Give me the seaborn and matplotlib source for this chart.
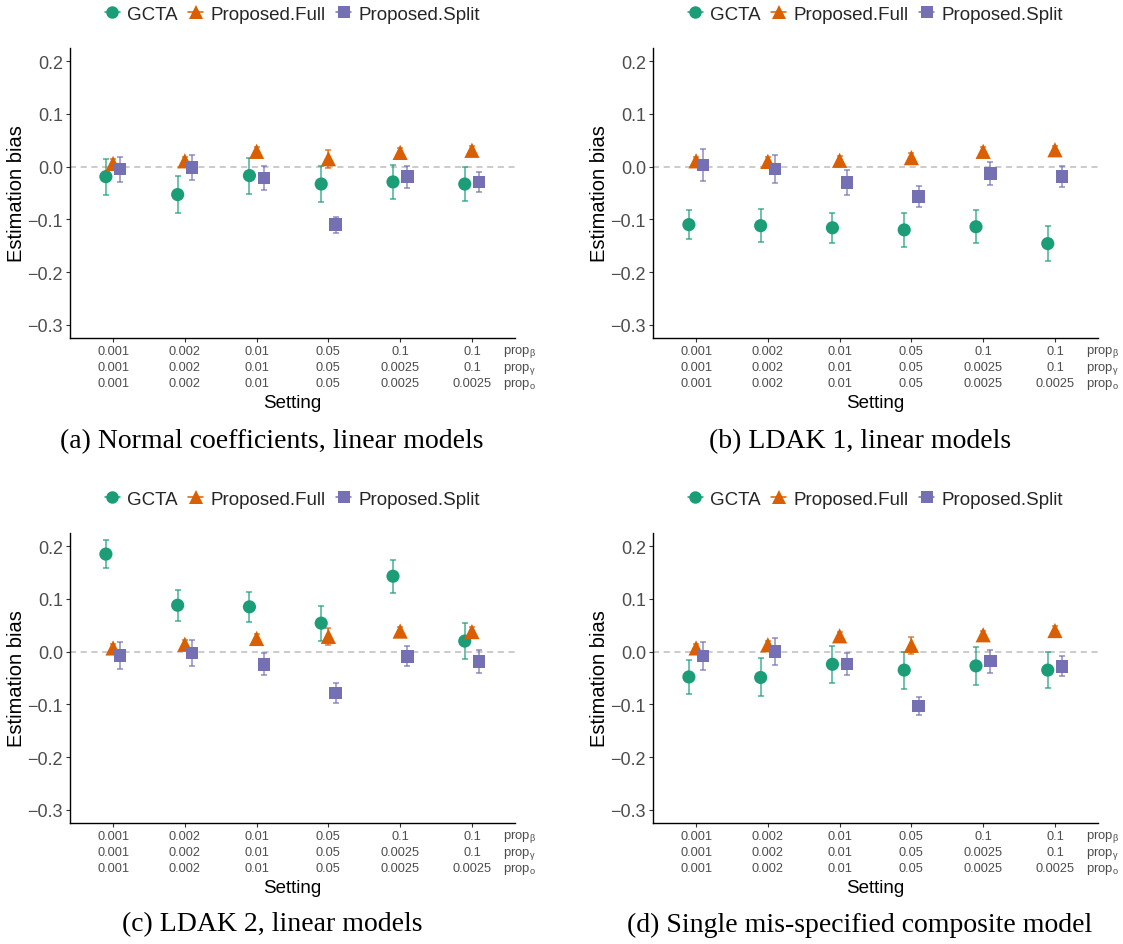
"""Estimation bias of GCTA vs proposed estimators across simulation settings."""

import matplotlib.pyplot as plt
import pandas as pd
import seaborn as sns
from matplotlib.lines import Line2D

# %% values
settings_beta = ["0.001", "0.002", "0.01", "0.05", "0.1", "0.1"]
settings_gamma = ["0.001", "0.002", "0.01", "0.05", "0.0025", "0.1"]
settings_o = ["0.001", "0.002", "0.01", "0.05", "0.0025", "0.0025"]
methods = ["GCTA", "Proposed.Full", "Proposed.Split"]

# (a) Normal coefficients, linear models
a_gcta = [-0.019, -0.053, -0.017, -0.033, -0.029, -0.033]
a_gcta_err = [0.034, 0.035, 0.034, 0.034, 0.032, 0.032]
a_full = [0.006, 0.011, 0.029, 0.015, 0.027, 0.031]
a_full_err = [0.008, 0.008, 0.008, 0.017, 0.008, 0.008]
a_split = [-0.005, -0.002, -0.022, -0.110, -0.019, -0.029]
a_split_err = [0.024, 0.024, 0.023, 0.015, 0.021, 0.019]

# (b) LDAK 1, linear models
b_gcta = [-0.110, -0.112, -0.116, -0.120, -0.114, -0.146]
b_gcta_err = [0.027, 0.031, 0.028, 0.033, 0.031, 0.033]
b_full = [0.011, 0.010, 0.012, 0.017, 0.029, 0.032]
b_full_err = [0.008, 0.008, 0.008, 0.008, 0.008, 0.008]
b_split = [0.003, -0.004, -0.030, -0.057, -0.013, -0.019]
b_split_err = [0.031, 0.027, 0.024, 0.020, 0.022, 0.020]

# (c) LDAK 2, linear models
c_gcta = [0.185, 0.088, 0.085, 0.054, 0.143, 0.020]
c_gcta_err = [0.027, 0.029, 0.029, 0.033, 0.031, 0.034]
c_full = [0.007, 0.014, 0.025, 0.029, 0.039, 0.038]
c_full_err = [0.008, 0.008, 0.008, 0.016, 0.008, 0.008]
c_split = [-0.007, -0.003, -0.024, -0.078, -0.009, -0.019]
c_split_err = [0.025, 0.025, 0.021, 0.019, 0.019, 0.022]

# (d) Single mis-specified composite model
d_gcta = [-0.048, -0.049, -0.024, -0.035, -0.027, -0.035]
d_gcta_err = [0.033, 0.036, 0.035, 0.035, 0.036, 0.034]
d_full = [0.007, 0.013, 0.030, 0.012, 0.032, 0.040]
d_full_err = [0.008, 0.008, 0.008, 0.016, 0.008, 0.008]
d_split = [-0.008, 0.000, -0.023, -0.103, -0.018, -0.028]
d_split_err = [0.027, 0.026, 0.021, 0.017, 0.022, 0.019]

captions = ["(a) Normal coefficients, linear models", "(b) LDAK 1, linear models",
            "(c) LDAK 2, linear models", "(d) Single mis-specified composite model"]

# %% style
sns.set_theme(style="ticks")
plt.rcParams["font.family"] = ["Liberation Sans", "DejaVu Sans"]
plt.rcParams["mathtext.fontset"] = "custom"
plt.rcParams["mathtext.rm"] = "Liberation Sans"
plt.rcParams["mathtext.it"] = "Liberation Sans"

palette = {"GCTA": "#1B9E77", "Proposed.Full": "#D95F02", "Proposed.Split": "#7570B3"}
markers = {"GCTA": "o", "Proposed.Full": "^", "Proposed.Split": "s"}
msize = {"GCTA": 90, "Proposed.Full": 120, "Proposed.Split": 80}
dodge = {"GCTA": -0.1, "Proposed.Full": 0.0, "Proposed.Split": 0.1}
grey = "#4D4D4D"


def make_df(gcta, gcta_err, full, full_err, split, split_err):
    rows = []
    for m, vals, errs in zip(methods, [gcta, full, split], [gcta_err, full_err, split_err]):
        for i, (v, e) in enumerate(zip(vals, errs)):
            rows.append({"method": m, "setting": i, "bias": v, "err": e})
    df = pd.DataFrame(rows)
    df["xpos"] = df["setting"] + df["method"].map(dodge)
    return df


panels = [
    make_df(a_gcta, a_gcta_err, a_full, a_full_err, a_split, a_split_err),
    make_df(b_gcta, b_gcta_err, b_full, b_full_err, b_split, b_split_err),
    make_df(c_gcta, c_gcta_err, c_full, c_full_err, c_split, c_split_err),
    make_df(d_gcta, d_gcta_err, d_full, d_full_err, d_split, d_split_err),
]

W, H = 1123, 945
fig = plt.figure(figsize=(W / 100, H / 100), dpi=100)
lefts = [70, 653, 70, 653]
bottoms = [339, 339, 824, 824]
cap_x = [272, 860, 272, 860]
cap_y = [442, 442, 925, 925]
xticklabels = [f"{b}\n{g}\n{o}" for b, g, o in zip(settings_beta, settings_gamma, settings_o)]

for k, df in enumerate(panels):
    ax = fig.add_axes([lefts[k] / W, 1 - bottoms[k] / H, 445 / W, 290 / H])
    ax.axhline(0, color="#BDBDBD", lw=1.1, ls=(0, (4, 3)), zorder=1)
    for m in methods:
        sub = df[df["method"] == m]
        ax.errorbar(sub["xpos"], sub["bias"], yerr=sub["err"], fmt="none",
                    ecolor=palette[m], elinewidth=1.1, capsize=2.2, capthick=1.1,
                    alpha=0.8, zorder=2)
    for m in methods:
        sub = df[df["method"] == m]
        sns.scatterplot(data=sub, x="xpos", y="bias", color=palette[m], marker=markers[m],
                        s=msize[m], edgecolor="none", linewidth=0, ax=ax, legend=False,
                        zorder=3)

    ax.set_xlim(-0.6, 5.6)
    ax.set_ylim(-0.325, 0.225)
    ax.set_yticks([-0.3, -0.2, -0.1, 0.0, 0.1, 0.2])
    ax.set_yticklabels(["\u22120.3", "\u22120.2", "\u22120.1", "0.0", "0.1", "0.2"])
    ax.set_xticks(range(6))
    ax.set_xticklabels(xticklabels, fontsize=9.2, color=grey, linespacing=1.42)
    ax.tick_params(axis="y", labelsize=13, labelcolor=grey, length=3, width=0.8,
                   color="#333333", pad=2)
    ax.tick_params(axis="x", length=3, width=0.8, color="#333333", pad=2)
    sns.despine(ax=ax)
    for side in ["left", "bottom"]:
        ax.spines[side].set_linewidth(1.0)
        ax.spines[side].set_color("black")
    ax.set_xlabel("Setting", fontsize=13.5, color="black", labelpad=4)
    ax.set_ylabel("Estimation bias", fontsize=14.5, color="black", labelpad=1)

    for j, lab in enumerate(["prop$_\\mathregular{\u03b2}$", "prop$_\\mathregular{\u03b3}$",
                             "prop$_\\mathregular{o}$"]):
        ax.annotate(lab, xy=(0.973, 0), xycoords="axes fraction",
                    xytext=(0, -9.6 - 11.7 * j), textcoords="offset points",
                    ha="left", va="center", fontsize=9.4, color=grey)

    handles = [Line2D([0], [0], color=palette[m], marker=markers[m], lw=1.1,
                      markersize=10 if m == "Proposed.Full" else 9, markeredgewidth=0)
               for m in methods]
    ax.legend(handles, methods, loc="center", bbox_to_anchor=(0.5, 1.117), ncol=3,
              frameon=False, fontsize=13.5, handlelength=0.8, handletextpad=0.4,
              columnspacing=0.55)

    fig.text(cap_x[k] / W, 1 - cap_y[k] / H, captions[k], ha="center", va="center",
             fontsize=20, family="Liberation Serif", color="black")

fig.savefig("out.png", dpi=100)
